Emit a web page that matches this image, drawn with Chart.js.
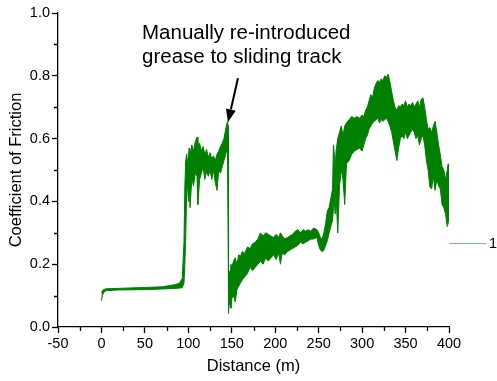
<!DOCTYPE html>
<html>
<head>
<meta charset="utf-8">
<script src="https://cdn.jsdelivr.net/npm/chart.js@4.4.1/dist/chart.umd.min.js"></script>
<style>
  html, body { margin: 0; padding: 0; background: #fff; }
  #wrap { width: 497px; height: 381px; position: relative; }
</style>
</head>
<body>
<div id="wrap"><canvas id="chart"></canvas></div>
<script>
// distance (m) and the upper / lower edge of the noisy friction trace
const distance = [0, 1, 3, 6, 20, 50, 70, 85, 90, 93, 95, 96, 97, 98, 99, 100, 101, 102, 104, 106, 108, 110, 111, 113, 115, 117, 119, 121, 123, 125, 127, 129, 131, 133, 135, 137, 139, 141, 143, 145, 145.8, 146, 146.5, 147, 148, 149, 150, 152, 154, 156, 158, 160, 162, 165, 168, 171, 174, 177, 180, 183, 186, 189, 192, 195, 198, 201, 204, 206, 208, 211, 214, 217, 220, 223, 226, 229, 232, 235, 238, 241, 244, 248, 250, 252, 254, 256, 258, 260, 262, 264, 266, 267, 268, 269, 270, 272, 274, 276, 278, 280, 282, 285, 288, 291, 294, 297, 300, 302, 304, 306, 308, 310, 312, 314, 316, 318, 320, 322, 324, 326, 328, 330, 332, 334, 336, 338, 340, 342, 344, 346, 348, 350, 352, 354, 356, 358, 360, 362, 364, 366, 368, 370, 372, 374, 376, 378, 380, 382, 384, 386, 388, 390, 392, 394, 396, 398, 399, 400];
const cofUpper = [0.11, 0.115, 0.12, 0.122, 0.123, 0.126, 0.128, 0.135, 0.14, 0.155, 0.27, 0.45, 0.53, 0.55, 0.52, 0.545, 0.57, 0.55, 0.58, 0.56, 0.59, 0.605, 0.58, 0.585, 0.56, 0.575, 0.55, 0.565, 0.54, 0.555, 0.535, 0.545, 0.53, 0.55, 0.56, 0.575, 0.585, 0.6, 0.63, 0.655, 0.64, 0.6, 0.18, 0.17, 0.18, 0.2, 0.19, 0.21, 0.22, 0.2, 0.23, 0.225, 0.24, 0.235, 0.255, 0.25, 0.265, 0.27, 0.28, 0.3, 0.29, 0.3, 0.295, 0.29, 0.285, 0.295, 0.285, 0.3, 0.29, 0.28, 0.285, 0.29, 0.295, 0.305, 0.31, 0.3, 0.31, 0.305, 0.31, 0.305, 0.315, 0.31, 0.3, 0.285, 0.28, 0.3, 0.33, 0.37, 0.38, 0.41, 0.44, 0.58, 0.55, 0.5, 0.56, 0.6, 0.62, 0.64, 0.61, 0.64, 0.65, 0.66, 0.67, 0.665, 0.67, 0.665, 0.675, 0.67, 0.69, 0.7, 0.72, 0.74, 0.73, 0.76, 0.775, 0.785, 0.78, 0.79, 0.785, 0.8, 0.795, 0.805, 0.78, 0.75, 0.72, 0.7, 0.69, 0.705, 0.7, 0.71, 0.705, 0.72, 0.7, 0.71, 0.705, 0.715, 0.7, 0.71, 0.72, 0.7, 0.725, 0.73, 0.7, 0.66, 0.63, 0.635, 0.62, 0.64, 0.655, 0.62, 0.58, 0.55, 0.51, 0.5, 0.47, 0.5, 0.52, 0.51];
const cofLower = [0.084, 0.1, 0.112, 0.116, 0.118, 0.119, 0.121, 0.123, 0.124, 0.125, 0.14, 0.2, 0.285, 0.42, 0.46, 0.4, 0.44, 0.38, 0.47, 0.45, 0.49, 0.48, 0.39, 0.47, 0.49, 0.51, 0.47, 0.495, 0.48, 0.5, 0.47, 0.5, 0.46, 0.435, 0.5, 0.49, 0.51, 0.53, 0.55, 0.57, 0.3, 0.043, 0.05, 0.07, 0.075, 0.06, 0.09, 0.1, 0.08, 0.12, 0.13, 0.14, 0.15, 0.16, 0.17, 0.19, 0.18, 0.19, 0.2, 0.21, 0.2, 0.22, 0.21, 0.22, 0.23, 0.215, 0.235, 0.2, 0.235, 0.23, 0.24, 0.245, 0.25, 0.255, 0.26, 0.27, 0.265, 0.27, 0.275, 0.28, 0.28, 0.285, 0.26, 0.245, 0.24, 0.245, 0.26, 0.275, 0.3, 0.32, 0.34, 0.38, 0.4, 0.36, 0.42, 0.3, 0.45, 0.5, 0.47, 0.39, 0.52, 0.53, 0.55, 0.56, 0.565, 0.57, 0.56, 0.58, 0.6, 0.61, 0.63, 0.64, 0.65, 0.655, 0.66, 0.665, 0.65, 0.66, 0.655, 0.66, 0.665, 0.655, 0.64, 0.62, 0.59, 0.56, 0.53, 0.57, 0.6, 0.61, 0.6, 0.62, 0.6, 0.61, 0.62, 0.63, 0.62, 0.6, 0.61, 0.58, 0.6, 0.61, 0.58, 0.53, 0.5, 0.445, 0.44, 0.48, 0.435, 0.47, 0.45, 0.44, 0.39, 0.38, 0.36, 0.32, 0.33, 0.36];

const xTicks = [-50, 0, 50, 100, 150, 200, 250, 300, 350, 400];
const yTicks = [0.0, 0.2, 0.4, 0.6, 0.8, 1.0];
const seriesName = '1';
const noteLines = ['Manually re-introduced', 'grease to sliding track'];
const notePoint = { x: 145.6, y: 0.652 };

const FONT = 'Arial, "Liberation Sans", sans-serif';
const GREEN = '#008000';

const upper = distance.map((d, i) => ({ x: d, y: cofUpper[i] }));
const lower = distance.map((d, i) => ({ x: d, y: cofLower[i] }));

// minor ticks, annotation arrow and the little legend on the right
const extras = {
    id: 'extras',
    afterDraw(chart) {
        const { ctx, scales: { x, y } } = chart;
        ctx.save();
        ctx.strokeStyle = '#000';
        ctx.lineWidth = 1.3;
        ctx.beginPath();
        for (let i = 0; i < xTicks.length - 1; i++) {
            const px = Math.round(x.getPixelForValue((xTicks[i] + xTicks[i + 1]) / 2)) + 0.5;
            ctx.moveTo(px, y.bottom); ctx.lineTo(px, y.bottom + 4);
        }
        for (let i = 0; i < yTicks.length - 1; i++) {
            const py = Math.round(y.getPixelForValue((yTicks[i] + yTicks[i + 1]) / 2)) + 0.5;
            ctx.moveTo(x.left, py); ctx.lineTo(x.left - 4, py);
        }
        ctx.stroke();

        // annotation text
        ctx.fillStyle = '#000';
        ctx.font = '20.5px ' + FONT;
        ctx.textAlign = 'left';
        ctx.textBaseline = 'alphabetic';
        ctx.fillText(noteLines[0], 142, 39);
        ctx.fillText(noteLines[1], 142, 63);

        // arrow
        const tx = x.getPixelForValue(notePoint.x), ty = y.getPixelForValue(notePoint.y);
        const sx = tx + 10, sy = ty - 44;
        const ang = Math.atan2(ty - sy, tx - sx);
        const hl = 13, hw = 5;
        const bx = tx - hl * Math.cos(ang), by = ty - hl * Math.sin(ang);
        ctx.lineWidth = 2;
        ctx.beginPath();
        ctx.moveTo(sx, sy); ctx.lineTo(bx, by);
        ctx.stroke();
        ctx.beginPath();
        ctx.moveTo(tx, ty);
        ctx.lineTo(bx + hw * Math.sin(ang), by - hw * Math.cos(ang));
        ctx.lineTo(bx - hw * Math.sin(ang), by + hw * Math.cos(ang));
        ctx.closePath();
        ctx.fill();

        // legend
        ctx.strokeStyle = '#7fbf7f';
        ctx.lineWidth = 1;
        ctx.beginPath();
        ctx.moveTo(449, 243.5); ctx.lineTo(486, 243.5);
        ctx.stroke();
        ctx.font = '14.5px ' + FONT;
        ctx.textBaseline = 'middle';
        ctx.fillText(seriesName, 489, 244);
        ctx.restore();
    }
};

new Chart(document.getElementById('chart'), {
    type: 'line',
    data: {
        datasets: [
            { label: seriesName, data: upper, borderColor: GREEN, borderWidth: 1, pointRadius: 0, fill: false, tension: 0 },
            { label: seriesName + ' low', data: lower, borderColor: GREEN, borderWidth: 1, pointRadius: 0, fill: '-1', backgroundColor: GREEN, tension: 0 }
        ]
    },
    options: {
        responsive: true,
        maintainAspectRatio: false,
        animation: false,
        layout: { padding: { left: 0, right: 48, top: 13, bottom: 0 } },
        plugins: { legend: { display: false }, tooltip: { enabled: false } },
        scales: {
            x: {
                type: 'linear', min: -50, max: 400,
                afterBuildTicks: s => { s.ticks = xTicks.map(v => ({ value: v })); },
                afterFit: s => { s.height = 54; },
                ticks: { color: '#000', font: { family: FONT, size: 14.5 }, padding: 2, maxRotation: 0, callback: v => String(v) },
                grid: { drawOnChartArea: false, tickLength: 6, tickWidth: 1.3, tickColor: '#000' },
                border: { color: '#000', width: 1.3 },
                title: { display: true, text: 'Distance (m)', color: '#000', font: { family: FONT, size: 16.5 }, padding: { top: 4, bottom: 5 } }
            },
            y: {
                min: 0, max: 1,
                afterBuildTicks: s => { s.ticks = yTicks.map(v => ({ value: v })); },
                afterFit: s => { s.width = 58; },
                ticks: { color: '#000', font: { family: FONT, size: 14.5 }, padding: 2, callback: v => Number(v).toFixed(1) },
                grid: { drawOnChartArea: false, tickLength: 6, tickWidth: 1.3, tickColor: '#000' },
                border: { color: '#000', width: 1.3 },
                title: { display: true, text: 'Coefficient of Friction', color: '#000', font: { family: FONT, size: 16.5 }, padding: { top: 7, bottom: 4 } }
            }
        }
    },
    plugins: [extras]
});
</script>
</body>
</html>
